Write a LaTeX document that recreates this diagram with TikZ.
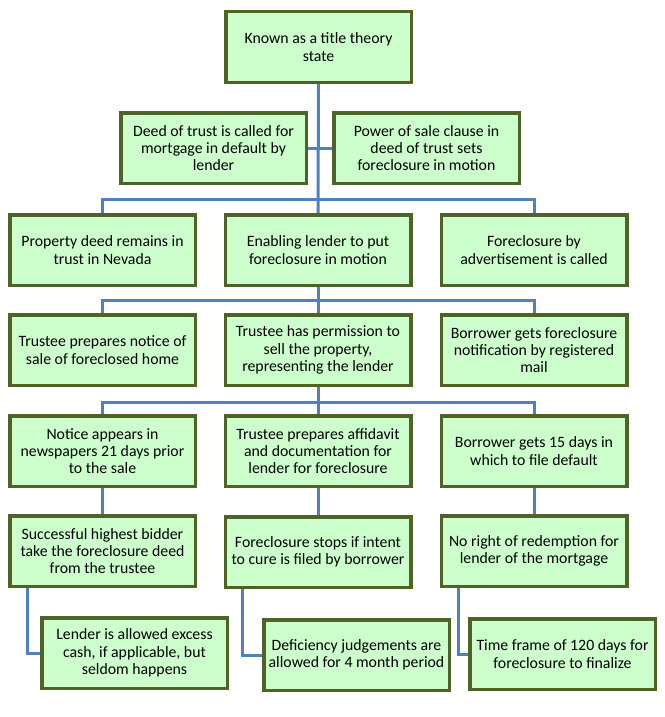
\documentclass[tikz,border=0pt]{standalone}
\usepackage{fontspec}
\setmainfont{Carlito}
\usetikzlibrary{backgrounds}
\definecolor{boxfill}{RGB}{204,255,204}
\definecolor{boxline}{RGB}{79,98,40}
\definecolor{conn}{RGB}{79,129,189}
\tikzset{
  box/.style={draw=boxline, line width=3.5pt, fill=boxfill, minimum width=185.5pt, minimum height=70.5pt,
    align=center, inner sep=2pt, font=\fontsize{15.8pt}{17.4pt}\selectfont},
  link/.style={draw=conn, line width=3pt}
}
\begin{document}
\begin{tikzpicture}[x=1pt,y=-1pt]
\useasboundingbox (0,0) rectangle (664,717);
\node[box] (t) at (318.5,47) {Known as a title theory\\state};
\node[box] (b2a) at (213.5,148) {Deed of trust is called for\\mortgage in default by\\lender};
\node[box] (b2b) at (426.5,148) {Power of sale clause in\\deed of trust sets\\foreclosure in motion};
\node[box] (b3a) at (102.5,250) {Property deed remains in\\trust in Nevada};
\node[box] (b3b) at (318,250) {Enabling lender to put\\foreclosure in motion};
\node[box] (b3c) at (534,250) {Foreclosure by\\advertisement is called};
\node[box] (b4a) at (102.5,350) {Trustee prepares notice of\\sale of foreclosed home};
\node[box] (b4b) at (318,350) {Trustee has permission to\\sell the property,\\representing the lender};
\node[box] (b4c) at (534,350) {Borrower gets foreclosure\\notification by registered\\mail};
\node[box] (b5a) at (102.5,451) {Notice appears in\\newspapers 21 days prior\\to the sale};
\node[box] (b5b) at (318,451) {Trustee prepares affidavit\\and documentation for\\lender for foreclosure};
\node[box] (b5c) at (534,451) {Borrower gets 15 days in\\which to file default};
\node[box] (b6a) at (102.5,551) {Successful highest bidder\\take the foreclosure deed\\from the trustee};
\node[box] (b6b) at (318,552) {Foreclosure stops if intent\\to cure is filed by borrower};
\node[box] (b6c) at (534,551) {No right of redemption for\\lender of the mortgage};
\node[box] (b7a) at (134.5,653) {Lender is allowed excess\\cash, if applicable, but\\seldom happens};
\node[box] (b7b) at (356.5,655) {Deficiency judgements are\\allowed for 4 month period};
\node[box] (b7c) at (562.5,654) {Time frame of 120 days for\\foreclosure to finalize};
\coordinate (j1) at (318,199);
\coordinate (j2) at (318,300);
\coordinate (j3) at (318,402);
\begin{scope}[on background layer]
\path[link] (t.south) -- (b3b.north);
\path[link] (b2a.east) -- (b2b.west);
\path[link] (b3a.north) |- (j1) -| (b3c.north);
\path[link] (b3b.south) -- (b4b.north);
\path[link] (b4a.north) |- (j2) -| (b4c.north);
\path[link] (b4b.south) -- (b5b.north);
\path[link] (b5a.north) |- (j3) -| (b5c.north);
\path[link] (b5a.south) -- (b6a.north);
\path[link] (b5b.south) -- (b6b.north);
\path[link] (b5c.south) -- (b6c.north);
\path[link] ([xshift=19pt]b6a.south west) |- (b7a.west);
\path[link] ([xshift=19pt]b6b.south west) |- (b7b.west);
\path[link] ([xshift=19pt]b6c.south west) |- (b7c.west);
\end{scope}
\end{tikzpicture}
\end{document}
